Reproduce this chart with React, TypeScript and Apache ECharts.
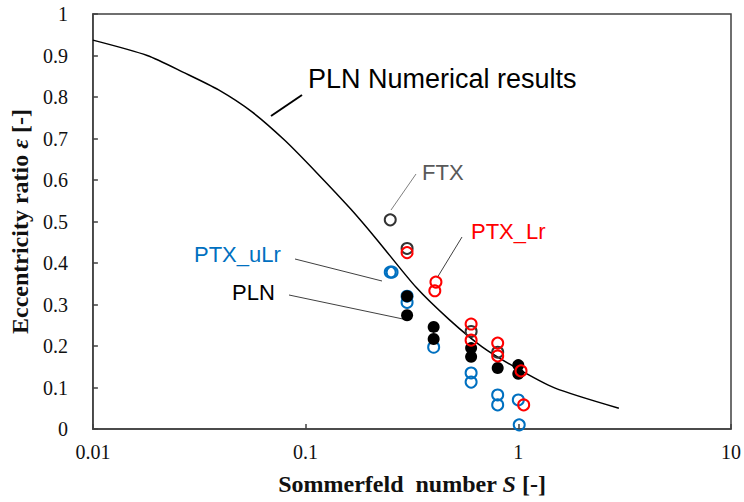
import React, { useEffect, useRef } from "react";
import * as echarts from "echarts";

// Numerical curve (PLN Numerical results)
const numS = [0.01, 0.018, 0.027, 0.039, 0.056, 0.08, 0.113, 0.163, 0.215, 0.33, 0.475, 0.676, 0.964, 1.48, 2.97];
const numE = [0.937, 0.9, 0.858, 0.817, 0.764, 0.695, 0.617, 0.53, 0.458, 0.342, 0.263, 0.198, 0.149, 0.099, 0.05];

// Experimental points
const ftxS = [0.25, 0.3, 0.6, 0.8];
const ftxE = [0.504, 0.435, 0.235, 0.185];

const uLrS = [0.25, 0.255, 0.3, 0.3, 0.4, 0.6, 0.6, 0.8, 0.8, 1.0, 1.01];
const uLrE = [0.378, 0.378, 0.32, 0.305, 0.197, 0.135, 0.113, 0.082, 0.058, 0.07, 0.01];

const plnS = [0.3, 0.3, 0.4, 0.4, 0.6, 0.6, 0.8, 1.0, 1.0];
const plnE = [0.32, 0.274, 0.246, 0.217, 0.195, 0.174, 0.147, 0.154, 0.133];

const lrS = [0.3, 0.41, 0.405, 0.6, 0.6, 0.8, 0.8, 1.03, 1.06];
const lrE = [0.425, 0.354, 0.333, 0.253, 0.214, 0.207, 0.176, 0.14, 0.058];

const xTicks = [0.01, 0.1, 1, 10];

const zip = (a: number[], b: number[]) => a.map((v, i) => [v, b[i]]);

const SERIF = "'Liberation Serif', 'Times New Roman', serif";
const SANS = "'Liberation Sans', Arial, sans-serif";
const BLUE = "#0070C0";
const RED = "#FF0000";

export default function App() {
  const ref = useRef<HTMLDivElement>(null);
  useEffect(() => {
    if (!ref.current) return;
    const chart = echarts.init(ref.current, null, { renderer: "svg" });
    const openCircle = (color: string) => ({
      color: "transparent",
      borderColor: color,
      borderWidth: 2,
      opacity: 1,
    });
    chart.setOption({
      animation: false,
      grid: {
        left: 87,
        right: 13,
        top: 14,
        bottom: 73,
        show: true,
        borderColor: "#404040",
        borderWidth: 1.5,
      },
      xAxis: {
        type: "log",
        logBase: 10,
        min: xTicks[0],
        max: xTicks[xTicks.length - 1],
        name: "Sommerfeld  number {i|S} [-]",
        nameLocation: "middle",
        nameGap: 43,
        nameTextStyle: {
          fontFamily: SERIF,
          fontWeight: "bold",
          fontSize: 24,
          color: "#111",
          rich: {
            i: { fontFamily: SERIF, fontWeight: "bold", fontStyle: "italic", fontSize: 24, color: "#111" },
          },
        },
        axisLine: { show: true, lineStyle: { color: "#404040", width: 1.5 } },
        axisTick: { show: true, inside: true, length: 5, lineStyle: { color: "#404040", width: 1.5 } },
        minorTick: { show: false },
        splitLine: { show: false },
        axisLabel: {
          fontFamily: SERIF,
          fontSize: 20,
          color: "#111",
          margin: 13,
          formatter: (v: number) => String(+v.toPrecision(3)),
        },
      },
      yAxis: {
        type: "value",
        min: 0,
        max: 1,
        interval: 0.1,
        name: "Eccentricity ratio {i|ε} [-]",
        nameLocation: "middle",
        nameGap: 50,
        nameTextStyle: {
          fontFamily: SERIF,
          fontWeight: "bold",
          fontSize: 24,
          color: "#111",
          rich: {
            i: { fontFamily: SERIF, fontWeight: "bold", fontStyle: "italic", fontSize: 24, color: "#111" },
          },
        },
        axisLine: { show: true, lineStyle: { color: "#404040", width: 1.5 } },
        axisTick: { show: true, inside: true, length: 5, lineStyle: { color: "#404040", width: 1.5 } },
        splitLine: { show: false },
        axisLabel: {
          fontFamily: SERIF,
          fontSize: 20,
          color: "#111",
          margin: 25,
          formatter: (v: number) => String(+v.toFixed(1)),
        },
      },
      series: [
        {
          name: "PLN Numerical results",
          type: "line",
          data: zip(numS, numE),
          symbol: "none",
          smooth: 0.25,
          lineStyle: { color: "#000", width: 1.5 },
          z: 2,
        },
        {
          name: "FTX",
          type: "scatter",
          data: zip(ftxS, ftxE),
          symbol: "circle",
          symbolSize: 11,
          itemStyle: openCircle("#333333"),
          z: 3,
        },
        {
          name: "PTX_uLr",
          type: "scatter",
          data: zip(uLrS, uLrE),
          symbol: "circle",
          symbolSize: 11,
          itemStyle: openCircle(BLUE),
          z: 4,
        },
        {
          name: "PLN",
          type: "scatter",
          data: zip(plnS, plnE),
          symbol: "circle",
          symbolSize: 12,
          itemStyle: { color: "#000", opacity: 1 },
          z: 5,
        },
        {
          name: "PTX_Lr",
          type: "scatter",
          data: zip(lrS, lrE),
          symbol: "circle",
          symbolSize: 11,
          itemStyle: openCircle(RED),
          z: 6,
        },
      ],
      graphic: [
        { type: "line", shape: { x1: 271, y1: 116, x2: 302, y2: 95 }, style: { stroke: "#000", lineWidth: 2 } },
        {
          type: "text",
          x: 308,
          y: 79,
          style: { text: "PLN Numerical results", fontFamily: SANS, fontSize: 27, fill: "#000", textAlign: "left", textVerticalAlign: "middle" },
        },
        { type: "line", shape: { x1: 391, y1: 210, x2: 416, y2: 174 }, style: { stroke: "#7f7f7f", lineWidth: 1 } },
        {
          type: "text",
          x: 422,
          y: 172,
          style: { text: "FTX", fontFamily: SANS, fontSize: 22, fill: "#595959", textAlign: "left", textVerticalAlign: "middle" },
        },
        { type: "line", shape: { x1: 437, y1: 278, x2: 462, y2: 237 }, style: { stroke: "#404040", lineWidth: 1 } },
        {
          type: "text",
          x: 471,
          y: 231,
          style: { text: "PTX_Lr", fontFamily: SANS, fontSize: 22, fill: RED, textAlign: "left", textVerticalAlign: "middle" },
        },
        { type: "line", shape: { x1: 295, y1: 259, x2: 382, y2: 281 }, style: { stroke: "#404040", lineWidth: 1 } },
        {
          type: "text",
          x: 194,
          y: 254,
          style: { text: "PTX_uLr", fontFamily: SANS, fontSize: 22, fill: BLUE, textAlign: "left", textVerticalAlign: "middle" },
        },
        { type: "line", shape: { x1: 289, y1: 295, x2: 403, y2: 319 }, style: { stroke: "#404040", lineWidth: 1 } },
        {
          type: "text",
          x: 232,
          y: 292,
          style: { text: "PLN", fontFamily: SANS, fontSize: 22, fill: "#000", textAlign: "left", textVerticalAlign: "middle" },
        },
      ],
    });
    return () => chart.dispose();
  }, []);
  return (
    <div
      ref={ref}
      style={{ position: "fixed", left: 0, top: 0, width: 744, height: 502, background: "#fff" }}
    />
  );
}
